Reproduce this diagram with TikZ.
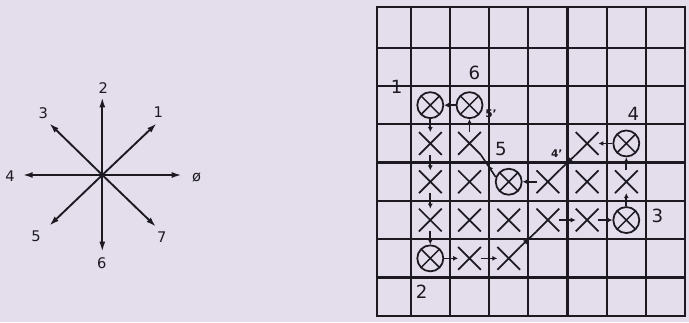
\documentclass[tikz,border=0pt]{standalone}
\usepackage{fontspec}
\setmainfont{DejaVu Sans}
\usetikzlibrary{arrows.meta,shapes.misc,decorations.markings}
\definecolor{paper}{RGB}{227,221,236}
\definecolor{ink}{RGB}{28,26,32}
\tikzset{
  gridline/.style={draw=ink, line width=2pt},
  xmark/.style={cross out, draw=ink, line width=1.5pt, inner sep=0pt, minimum size=0.63cm},
  omark/.style={circle, draw=ink, line width=1.5pt, inner sep=0pt, minimum size=0.78cm,
    path picture={\draw[ink, line width=1.3pt] (path picture bounding box.north west) -- (path picture bounding box.south east)
      (path picture bounding box.south west) -- (path picture bounding box.north east);}},
  link/.style={draw=ink, line width=1.4pt, -{Latex[length=0.15cm,width=0.15cm]}},
  dlink/.style={draw=ink, line width=1.4pt, decoration={markings, mark=at position 0.55 with {\arrow{Latex[length=0.18cm,width=0.16cm]}}}, postaction={decorate}},
  dirarrow/.style={draw=ink, line width=1.6pt, -{Latex[length=0.3cm,width=0.18cm]}},
  dirlabel/.style={inner sep=0pt, text=ink, font=\fontsize{12.5}{14}\selectfont},
  ptlabel/.style={inner sep=0pt, text=ink, font=\fontsize{15.5}{18}\selectfont},
  primelabel/.style={inner sep=0pt, text=ink, font=\fontsize{9}{10}\bfseries\selectfont}
}
\begin{document}
\begin{tikzpicture}[x=0.03cm, y=-0.03cm]
\useasboundingbox (0,0) rectangle (689,322);
\fill[paper] (0,0) rectangle (689,322);
\coordinate (ctr) at (102.3,175);
\foreach \n/\txt/\tx/\ty/\lx/\ly in {0/ø/181.7/175/196.7/177.3, 1/1/156.7/123.3/158.3/111.7,
    2/2/102.3/97.3/103.3/88.3, 3/3/49.3/123.3/43.3/113.3, 4/4/22.7/175/10/175.7,
    5/5/49.3/225.7/36/236.7, 6/6/102.3/251.7/101.7/263.3, 7/7/156/226.7/161.7/236.7} {
  \coordinate (tip\n) at (\tx,\ty);
  \node[dirlabel] (dir\n) at (\lx,\ly) {\txt};
  \draw[dirarrow] (ctr) -- (tip\n);
}
\draw[gridline] (377.3,7.3) rectangle (685.1,315.8);
\foreach \k in {1,...,7} { \draw[gridline] ({410.7+39.2*(\k-1)},7.3) -- ({410.7+39.2*(\k-1)},315.8); }
\foreach \k in {1,...,7} { \draw[gridline] (377.3,{47.7+38.3*(\k-1)}) -- (685.1,{47.7+38.3*(\k-1)}); }
\foreach \c/\r in {1/3,2/3,5/3,1/4,2/4,4/4,5/4,6/4,1/5,2/5,3/5,4/5,5/5,2/6,3/6} {
  \node[xmark] (x\c\r) at ({430.3+39.2*(\c-1)},{66.85+38.3*(\r-1)}) {};
}
\foreach \c/\r in {1/2,2/2,6/3,3/4,6/5,1/6} {
  \node[omark] (o\c\r) at ({430.3+39.2*(\c-1)},{66.85+38.3*(\r-1)}) {};
}
\foreach \a/\b in {o12/x13,x13/x14,x14/x15,x15/o16,o16/x26,x26/x36,x45/x55,x55/o65,
    o65/x64,x64/o63,o63/x53,x44/o34,x23/o22,o22/o12} { \draw[link] (\a) -- (\b); }
\draw[dlink] (x36.north east) -- (x45.south west);
\draw[dlink] (x53.south west) -- (x44.north east);
\draw[dlink] (o34.160) -- (x23.south east);
\node[ptlabel] (pt1) at (396.7,86.7) {1};
\node[ptlabel] (pt2) at (421.7,291.7) {2};
\node[ptlabel] (pt3) at (657.3,215.7) {3};
\node[ptlabel] (pt4) at (633.3,114) {4};
\node[ptlabel] (pt5) at (501,149.3) {5};
\node[ptlabel] (pt6) at (474.3,73.3) {6};
\node[primelabel] (pt4p) at (556.7,153.3) {4'};
\node[primelabel] (pt5p) at (491,113.3) {5'};
\end{tikzpicture}
\end{document}
